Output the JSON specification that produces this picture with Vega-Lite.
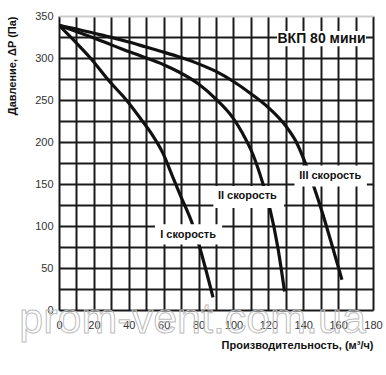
{
  "$schema": "https://vega.github.io/schema/vega-lite/v6.json",
  "width": 314,
  "height": 294,
  "autosize": "none",
  "padding": {"left": 59, "top": 16, "right": 13, "bottom": 65},
  "background": "white",
  "config": {"view": {"stroke": null}, "font": "Liberation Sans"},
  "datasets": {
    "curves": [
      {"speed": "I", "q": 0, "p": 339}, {"speed": "I", "q": 9, "p": 320}, {"speed": "I", "q": 18, "p": 300},
      {"speed": "I", "q": 29, "p": 272}, {"speed": "I", "q": 38.6, "p": 250}, {"speed": "I", "q": 48.1, "p": 224},
      {"speed": "I", "q": 53, "p": 210}, {"speed": "I", "q": 59.5, "p": 187}, {"speed": "I", "q": 65, "p": 159.5},
      {"speed": "I", "q": 70, "p": 134.5}, {"speed": "I", "q": 76.7, "p": 101}, {"speed": "I", "q": 80.3, "p": 77},
      {"speed": "I", "q": 88.3, "p": 15},
      {"speed": "II", "q": 0, "p": 339}, {"speed": "II", "q": 8, "p": 333}, {"speed": "II", "q": 16.6, "p": 326.5},
      {"speed": "II", "q": 26, "p": 319}, {"speed": "II", "q": 35.7, "p": 311}, {"speed": "II", "q": 50, "p": 300},
      {"speed": "II", "q": 60, "p": 292}, {"speed": "II", "q": 69, "p": 283}, {"speed": "II", "q": 80, "p": 269},
      {"speed": "II", "q": 90, "p": 251}, {"speed": "II", "q": 99.6, "p": 229}, {"speed": "II", "q": 105.3, "p": 210},
      {"speed": "II", "q": 111, "p": 186}, {"speed": "II", "q": 116.8, "p": 151}, {"speed": "II", "q": 120.6, "p": 123},
      {"speed": "II", "q": 125.4, "p": 75}, {"speed": "II", "q": 129.3, "p": 22},
      {"speed": "III", "q": 0, "p": 339}, {"speed": "III", "q": 10, "p": 334.5}, {"speed": "III", "q": 20, "p": 329.5},
      {"speed": "III", "q": 30, "p": 324.5}, {"speed": "III", "q": 40, "p": 319}, {"speed": "III", "q": 50, "p": 313},
      {"speed": "III", "q": 60, "p": 307}, {"speed": "III", "q": 70, "p": 300.5}, {"speed": "III", "q": 80, "p": 293},
      {"speed": "III", "q": 90, "p": 284}, {"speed": "III", "q": 100, "p": 272}, {"speed": "III", "q": 110, "p": 257.5},
      {"speed": "III", "q": 120, "p": 241}, {"speed": "III", "q": 130, "p": 219}, {"speed": "III", "q": 136, "p": 200},
      {"speed": "III", "q": 141, "p": 176}, {"speed": "III", "q": 146.4, "p": 145}, {"speed": "III", "q": 151.1, "p": 115},
      {"speed": "III", "q": 156.8, "p": 75}, {"speed": "III", "q": 162.2, "p": 36}
    ],
    "boxes": [
      {"name": "title", "q": 125, "q2": 176, "p": 332, "p2": 314},
      {"name": "III", "q": 135, "q2": 176.5, "p": 172, "p2": 147},
      {"name": "II", "q": 88.5, "q2": 129, "p": 147.5, "p2": 121.5},
      {"name": "I", "q": 55, "q2": 93.5, "p": 102, "p2": 78}
    ],
    "labels": [
      {"label": "III скорость", "q": 155.5, "p": 159},
      {"label": "II скорость", "q": 108, "p": 136},
      {"label": "I скорость", "q": 74, "p": 89}
    ]
  },
  "encoding": {
    "x": {
      "field": "q", "type": "quantitative",
      "scale": {"domain": [0, 180], "nice": false, "zero": false},
      "axis": {
        "values": [0, 10, 20, 30, 40, 50, 60, 70, 80, 90, 100, 110, 120, 130, 140, 150, 160, 170, 180],
        "labelExpr": "datum.value % 20 == 0 ? datum.label : ''",
        "grid": true, "gridColor": "#1a1a1a", "gridWidth": 2, "gridOpacity": 1,
        "domain": false, "ticks": false,
        "labelPadding": 9, "labelFontSize": 11, "labelColor": "#333333", "labelFont": "Liberation Sans",
        "labelFlush": false, "labelOverlap": false,
        "title": "Производительность, (м³/ч)",
        "titleFont": "Liberation Sans", "titleFontSize": 11, "titleFontWeight": "bold", "titleColor": "#111111",
        "titleAnchor": "end", "titleY": 35, "titleBaseline": "middle"
      }
    },
    "y": {
      "field": "p", "type": "quantitative",
      "scale": {"domain": [0, 350], "nice": false, "zero": false},
      "axis": {
        "values": [0, 25, 50, 75, 100, 125, 150, 175, 200, 225, 250, 275, 300, 325, 350],
        "labelExpr": "datum.value % 50 == 0 ? datum.label : ''",
        "grid": true,
        "gridColor": {"condition": {"test": "datum.value == 350", "value": "#cccccc"}, "value": "#1a1a1a"},
        "gridWidth": 2, "gridOpacity": 1,
        "domain": false, "ticks": false,
        "labelPadding": 6, "labelFontSize": 11, "labelColor": "#333333", "labelFont": "Liberation Sans",
        "labelFlush": false, "labelOverlap": false,
        "title": "Давление, ΔP (Па)",
        "titleFont": "Liberation Sans", "titleFontSize": 11, "titleFontWeight": "bold", "titleColor": "#111111",
        "titleX": -47, "titleY": 0, "titleAngle": -90, "titleAlign": "right", "titleBaseline": "middle"
      }
    }
  },
  "layer": [
    {
      "data": {"name": "curves"},
      "mark": {"type": "line", "color": "#111111", "strokeWidth": 3.2, "interpolate": "monotone", "clip": true},
      "encoding": {
        "detail": {"field": "speed", "type": "nominal"}
      }
    },
    {
      "data": {"name": "boxes"},
      "mark": {"type": "rect", "fill": "white"},
      "encoding": {
        "x2": {"field": "q2"},
        "y2": {"field": "p2"}
      }
    },
    {
      "data": {"name": "labels"},
      "mark": {"type": "text", "fontWeight": "bold", "fontSize": 11, "color": "#111111", "font": "Liberation Sans", "baseline": "middle"},
      "encoding": {
        "text": {"field": "label"}
      }
    },
    {
      "data": {"values": [{"label": "ВКП 80 мини", "q": 150.5, "p": 323}]},
      "mark": {"type": "text", "fontWeight": "bold", "fontSize": 14, "color": "#111111", "font": "Liberation Sans", "baseline": "middle"},
      "encoding": {
        "text": {"field": "label"}
      }
    },
    {
      "data": {"values": [{"label": "prom-vent.com.ua", "q": 76.6, "p": -27}]},
      "mark": {"type": "text", "fontSize": 43, "font": "Liberation Sans", "fill": "transparent", "stroke": "#bdbdbd", "strokeWidth": 1, "baseline": "alphabetic", "clip": false},
      "encoding": {
        "text": {"field": "label"}
      }
    }
  ]
}
